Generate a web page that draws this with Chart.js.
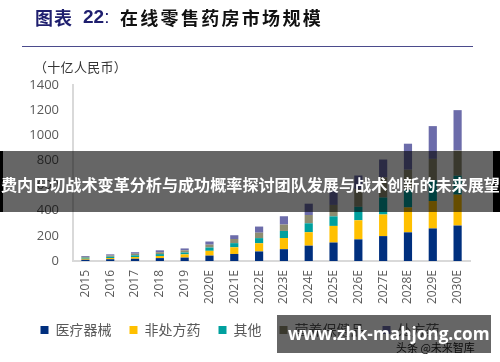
<!DOCTYPE html>
<html>
<head>
<meta charset="utf-8">
<script src="https://cdn.jsdelivr.net/npm/chart.js@4.4.0/dist/chart.umd.min.js"></script>
<style>
  body { margin: 0; background: #fff; }
  #wrap { position: relative; width: 500px; height: 362px; overflow: hidden; font-family: "Noto Sans CJK SC", sans-serif; }
  #mycanvas { position: absolute; left: 0; top: 0; }
  .t { position: absolute; white-space: nowrap; }
</style>
</head>
<body>
<div id="wrap">
  <canvas id="mycanvas" width="500" height="362"></canvas>

  <span class="t" style="left:35px;top:4px;font-size:18px;font-weight:700;color:#1e1e6e;letter-spacing:1px;">图表</span>
  <span class="t" style="left:83px;top:4px;font-size:19px;font-weight:700;color:#1e1e6e;font-family:'Liberation Sans',sans-serif;line-height:26px;">22<span style="font-weight:400">:</span></span>
  <span class="t" style="left:120px;top:4px;font-size:18px;font-weight:700;color:#111;letter-spacing:2.3px;">在线零售药房市场规模</span>
  <div class="t" style="left:22px;top:46px;width:451px;height:0;border-top:1.5px solid #4b4b8c;"></div>
  <span class="t" style="left:34px;top:57px;font-size:13px;color:#333;letter-spacing:0.3px;">（十亿人民币）</span>

  <!-- overlays -->
  <div class="t" style="left:0;top:151px;width:500px;height:61px;background:rgba(0,0,0,0.6);"></div>
  <div class="t" style="left:0;top:151px;width:3px;height:61px;background:#000;"></div>
  <div class="t" style="left:493px;top:151px;width:7px;height:61px;background:#000;"></div>
  <span class="t" style="left:1px;top:173px;font-size:16.1px;font-weight:700;color:#fff;line-height:22px;">费内巴切战术变革分析与成功概率探讨团队发展与战术创新的未来展望</span>

  <span class="t" style="left:396px;top:339px;font-size:11px;color:#222;">头条 @未来智库</span>
  <div class="t" style="left:277px;top:315px;width:214px;height:38px;background:rgba(0,0,0,0.6);"></div>
  <span class="t" style="left:288px;top:321px;font-size:17.2px;font-weight:700;color:#fff;font-family:'Open Sans',sans-serif;line-height:26px;">www.zhk-mahjong.com</span>
</div>

<script>
var years = ['2015','2016','2017','2018','2019','2020E','2021E','2022E','2023E','2024E','2025E','2026E','2027E','2028E','2029E','2030E'];

var medical  = [10, 14, 18, 23, 27, 43, 56, 76, 94, 122, 147, 172, 198, 228, 259, 282];
var otc      = [8, 10, 14, 17, 26, 38, 53, 65, 89, 107, 132, 152, 172, 198, 218, 246];
var others   = [8, 10, 13, 15, 15, 26, 33, 41, 56, 71, 76, 107, 135, 140, 165, 150];
var health   = [7, 10, 13, 15, 17, 23, 33, 43, 51, 66, 91, 139, 160, 160, 170, 200];
var rx       = [7, 9, 12, 15, 15, 25, 30, 49, 66, 90, 112, 110, 142, 207, 261, 322];

var yTicks = [0, 200, 400, 600, 800, 1000, 1200, 1400];

var tickColor = '#595959';

var chartdata = {
  labels: years,
  datasets: [
    { label: '医疗器械', data: medical, backgroundColor: '#002f7e' },
    { label: '非处方药', data: otc, backgroundColor: '#ffc000' },
    { label: '其他', data: others, backgroundColor: '#00a09e' },
    { label: '营养保健品', data: health, backgroundColor: '#8e8c70' },
    { label: '处方药', data: rx, backgroundColor: '#6c6caa' }
  ]
};

var ctx = document.getElementById('mycanvas');

var StackChart = new Chart(ctx, {
  type: 'bar',
  data: chartdata,
  options: {
    responsive: false,
    animation: false,
    layout: { padding: { left: 10, right: 30, top: 85, bottom: 15 } },
    datasets: { bar: { barPercentage: 0.33, categoryPercentage: 1 } },
    plugins: {
      tooltip: { enabled: false },
      legend: {
        position: 'bottom',
        labels: {
          boxWidth: 8,
          boxHeight: 8,
          padding: 18,
          color: tickColor,
          font: { family: '"Noto Sans CJK SC", sans-serif', size: 14 }
        }
      }
    },
    scales: {
      x: {
        stacked: true,
        grid: { display: false, drawTicks: false },
        border: { display: true, color: '#d9d9d9', width: 2 },
        ticks: {
          color: tickColor,
          minRotation: 90,
          maxRotation: 90,
          padding: 9,
          font: { family: '"Open Sans", sans-serif', size: 12 }
        },
        afterFit: function(scale) { scale.height = 44; }
      },
      y: {
        stacked: true,
        min: 0,
        max: 1400,
        afterBuildTicks: function(scale) {
          scale.ticks = yTicks.map(function(v) { return { value: v }; });
        },
        grid: { display: false, drawTicks: false },
        border: { display: true, color: '#d9d9d9', width: 2 },
        ticks: {
          color: tickColor,
          padding: 14,
          font: { family: '"Open Sans", sans-serif', size: 13 },
          callback: function(value) { return String(value); }
        },
        afterFit: function(scale) { scale.width = 63; }
      }
    }
  }
});
</script>
</body>
</html>
